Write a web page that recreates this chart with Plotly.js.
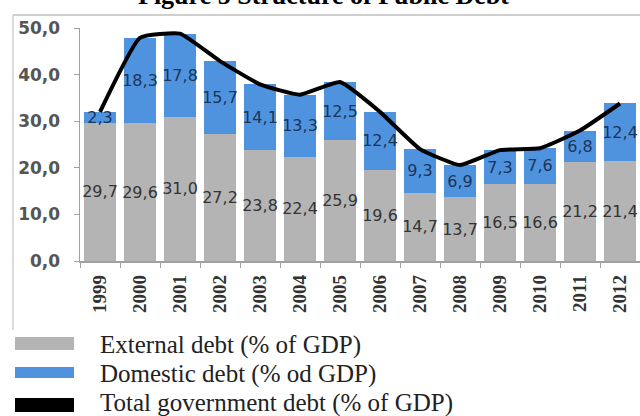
<!DOCTYPE html>
<html>
<head>
<meta charset="utf-8">
<script src="https://cdn.plot.ly/plotly-3.0.1.min.js"></script>
<style>html,body{margin:0;padding:0;background:#fff;}#chart{width:640px;height:416px;}</style>
</head>
<body>
<div id="chart"></div>
<script>
var years = ['1999','2000','2001','2002','2003','2004','2005','2006','2007','2008','2009','2010','2011','2012'];
var externalDebt = [29.7, 29.6, 31.0, 27.2, 23.8, 22.4, 25.9, 19.6, 14.7, 13.7, 16.5, 16.6, 21.2, 21.4];
var domesticDebt = [2.3, 18.3, 17.8, 15.7, 14.1, 13.3, 12.5, 12.4, 9.3, 6.9, 7.3, 7.6, 6.8, 12.4];
var totalDebt = [32.0, 47.9, 48.8, 42.9, 37.9, 35.7, 38.4, 32.0, 24.0, 20.6, 23.8, 24.2, 28.0, 33.8];
var yTicks = [0, 10, 20, 30, 40, 50];
var titleText = 'Figure 5 Structure of Public Debt';
var legendLabels = ['External debt (% of GDP)', 'Domestic debt (% od GDP)', 'Total government debt (% of GDP)'];

var W = 640, H = 416, L = 80, R = 0, T = 28, B = 155;
var pw = W - L - R, ph = H - T - B;
function px(X){ return (X - L) / pw; }
function py(Y){ return (H - B - Y) / ph; }

var colExt = '#b4b4b4', colDom = '#4f93de', colTot = '#000000';

var traces = [
  {type:'bar', x:years, y:externalDebt, name:legendLabels[0], marker:{color:colExt},
   texttemplate:'%{y:.1f}', textposition:'inside', insidetextanchor:'middle', constraintext:'none', textangle:0,
   textfont:{family:'DejaVu Sans', size:16, color:'#333333'}, cliponaxis:false, hoverinfo:'skip'},
  {type:'bar', x:years, y:domesticDebt, name:legendLabels[1], marker:{color:colDom},
   texttemplate:'%{y:.1f}', textposition:'inside', insidetextanchor:'middle', constraintext:'none', textangle:0,
   textfont:{family:'DejaVu Sans', size:16, color:'#1c3559'}, cliponaxis:false, hoverinfo:'skip'},
  {type:'scatter', mode:'lines', x:years, y:totalDebt, name:legendLabels[2],
   line:{color:colTot, width:4, shape:'spline', smoothing:0.4}, cliponaxis:false, hoverinfo:'skip'}
];

var shapes = [
  {type:'line', xref:'paper', yref:'paper', x0:px(13), x1:px(13), y0:py(15), y1:py(330), line:{color:'#cfcfcf', width:1.5}},
  {type:'line', xref:'paper', yref:'paper', x0:px(13), x1:px(640), y0:py(15), y1:py(15), line:{color:'#cfcfcf', width:2}},
  {type:'rect', xref:'paper', yref:'paper', x0:px(15), x1:px(74), y0:py(337), y1:py(350), fillcolor:colExt, line:{width:0}},
  {type:'rect', xref:'paper', yref:'paper', x0:px(15), x1:px(74), y0:py(367), y1:py(378), fillcolor:colDom, line:{width:0}},
  {type:'rect', xref:'paper', yref:'paper', x0:px(15), x1:px(74), y0:py(398), y1:py(412), fillcolor:colTot, line:{width:0}}
];

var legFont = {family:'Liberation Serif', size:25, color:'#222222'};
var annotations = [
  {xref:'paper', yref:'paper', x:px(323), y:py(-5), xanchor:'center', yanchor:'middle', showarrow:false,
   text:'<b>'+titleText+'</b>', font:{family:'Liberation Serif', size:26, color:'#000000'}},
  {xref:'paper', yref:'paper', x:px(98), y:py(345), xanchor:'left', yanchor:'middle', showarrow:false, text:legendLabels[0], font:legFont},
  {xref:'paper', yref:'paper', x:px(98), y:py(374), xanchor:'left', yanchor:'middle', showarrow:false, text:legendLabels[1], font:legFont},
  {xref:'paper', yref:'paper', x:px(98), y:py(403), xanchor:'left', yanchor:'middle', showarrow:false, text:legendLabels[2], font:legFont}
];

var layout = {
  width:W, height:H, margin:{l:L, r:R, t:T, b:B, pad:0},
  paper_bgcolor:'#ffffff', plot_bgcolor:'#ffffff',
  barmode:'stack', bargap:0.22, showlegend:false, separators:', ',
  xaxis:{type:'category', tickangle:-90, tickson:'boundaries', ticks:'outside', ticklen:5, tickcolor:'#a0a0a0',
         showline:true, linecolor:'#a0a0a0', linewidth:1.5, showgrid:false, zeroline:false, ticklabelstandoff:5,
         tickfont:{family:'Liberation Serif', size:19, color:'#333333', weight:'bold'}},
  yaxis:{range:[0,50], tickvals:yTicks, tickformat:'.1f', ticks:'outside', ticklen:5, tickcolor:'#a0a0a0',
         showline:true, linecolor:'#a0a0a0', linewidth:1.5, showgrid:false, zeroline:false, ticklabelstandoff:10,
         tickfont:{family:'DejaVu Sans', size:17, color:'#555555', weight:'bold'}},
  shapes:shapes, annotations:annotations
};

Plotly.newPlot('chart', traces, layout, {staticPlot:true, displayModeBar:false});
</script>
</body>
</html>
